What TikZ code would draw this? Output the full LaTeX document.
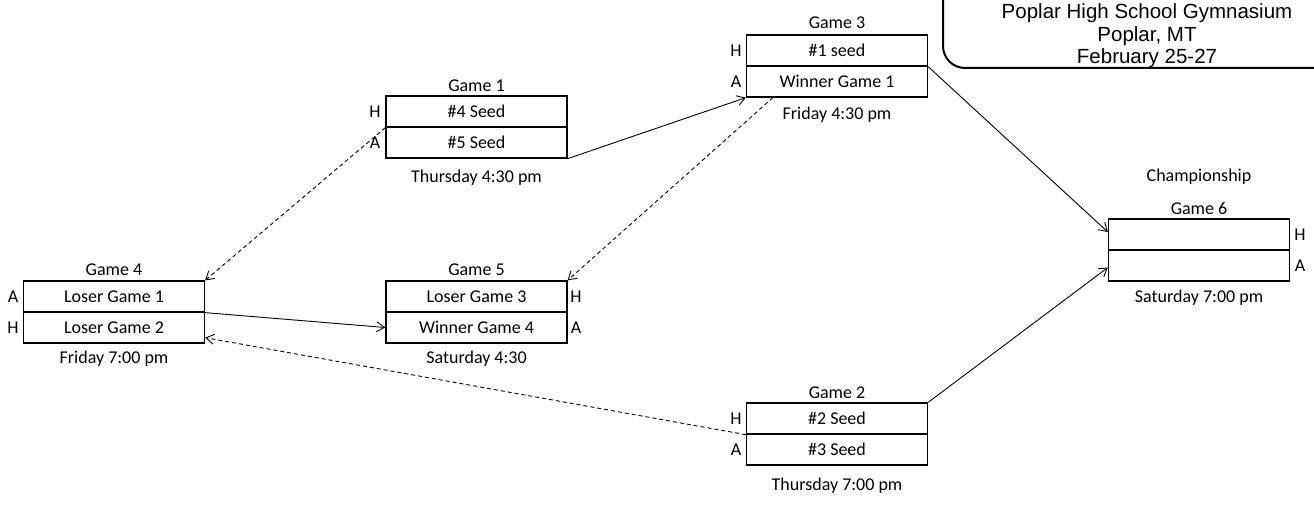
\documentclass[tikz,border=0pt]{standalone}
\usepackage{fontspec}
\setmainfont{Carlito}
\newfontfamily\arialf{Liberation Sans}
\usetikzlibrary{arrows.meta,calc}
\begin{document}
\begin{tikzpicture}[x=1pt,y=-1pt,
  row/.style={draw,line width=1.3pt,minimum width=181pt,minimum height=31pt,inner sep=0pt,font=\fontsize{18}{20}\selectfont},
  lbl/.style={inner sep=0pt,font=\fontsize{18}{20}\selectfont},
  conn/.style={line width=0.9pt,-{Straight Barb[length=8pt,width=10pt,line width=0.9pt]}},
  dconn/.style={conn,dash pattern=on 4pt off 3pt},
  info/.style={inner sep=0pt,font=\arialf\fontsize{20.5}{22}\selectfont}]
\useasboundingbox (0,0) rectangle (1314,508);
\begin{scope}
\clip (0,0) rectangle (1314,508);
\draw[line width=2pt,rounded corners=22pt] (943,-30) -- (943,68) -- (1340,68) -- (1340,-30);
\end{scope}
\node[info] (t1) at (1147,13) {Poplar High School Gymnasium};
\node[info] (t2) at (1147,36) {Poplar, MT};
\node[info] (t3) at (1147,58) {February 25-27};
% Game 3
\node[lbl] (g3t) at (837,23) {Game 3};
\node[row] (g3h) at (837,50.5) {\#1 seed};
\node[row] (g3a) at (837,81.5) {Winner Game 1};
\node[lbl] (g3d) at (837,115) {Friday 4:30 pm};
\node[lbl] (g3H) at (736,50.5) {H};
\node[lbl] (g3A) at (736,81.5) {A};
% Game 1
\node[lbl] (g1t) at (476.5,86) {Game 1};
\node[row] (g1h) at (476.5,111.5) {\#4 Seed};
\node[row] (g1a) at (476.5,142.5) {\#5 Seed};
\node[lbl] (g1d) at (476.5,178) {Thursday 4:30 pm};
\node[lbl] (g1H) at (375,111.5) {H};
\node[lbl] (g1A) at (375,142.5) {A};
% Game 4
\node[lbl] (g4t) at (114,270) {Game 4};
\node[row] (g4a) at (114,296.5) {Loser Game 1};
\node[row] (g4b) at (114,327.5) {Loser Game 2};
\node[lbl] (g4d) at (114,359) {Friday 7:00 pm};
\node[lbl] (g4A) at (13,296.5) {A};
\node[lbl] (g4H) at (13,327.5) {H};
% Game 5
\node[lbl] (g5t) at (476.5,270) {Game 5};
\node[row] (g5h) at (476.5,296.5) {Loser Game 3};
\node[row] (g5a) at (476.5,327.5) {Winner Game 4};
\node[lbl] (g5d) at (476.5,359) {Saturday 4:30};
\node[lbl] (g5H) at (576,296.5) {H};
\node[lbl] (g5A) at (576,327.5) {A};
% Game 2
\node[lbl] (g2t) at (837,393) {Game 2};
\node[row] (g2h) at (837,418.5) {\#2 Seed};
\node[row] (g2a) at (837,449.5) {\#3 Seed};
\node[lbl] (g2d) at (837,486) {Thursday 7:00 pm};
\node[lbl] (g2H) at (736,418.5) {H};
\node[lbl] (g2A) at (736,449.5) {A};
% Game 6
\node[lbl] (g6c) at (1199,177) {Championship};
\node[lbl] (g6t) at (1199,208) {Game 6};
\node[row,text height=0pt] (g6h) at (1199,234.5) {};
\node[row,text height=0pt] (g6a) at (1199,265.5) {};
\node[lbl] (g6d) at (1199,298) {Saturday 7:00 pm};
\node[lbl] (g6H) at (1300,234.5) {H};
\node[lbl] (g6A) at (1300,265.5) {A};
% connectors
\coordinate (g3s) at ($(g3a.south west)+(27,0)$);
\draw[conn] (g1a.south east) -- (g3a.south west);
\draw[conn] (g3h.south east) -- ([yshift=2.5pt]g6h.west);
\draw[conn] (g2h.north east) -- ([yshift=-2pt]g6a.west);
\draw[conn] (g4a.south east) -- (g5a.west);
\draw[dconn] (g1h.south west) -- (g4a.north east);
\draw[dconn] (g3s) -- (g5h.north east);
\draw[dconn] (g2h.south west) -- ([yshift=6pt]g4b.south east);
\end{tikzpicture}
\end{document}
